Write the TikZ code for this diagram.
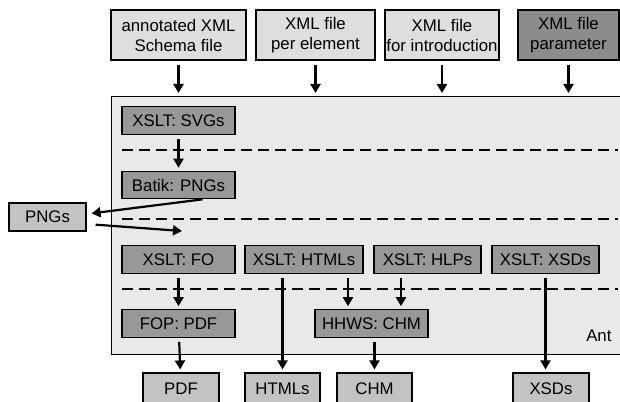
\documentclass[tikz,border=0pt]{standalone}
\usepackage{fontspec}
\setmainfont{Liberation Sans}
\usetikzlibrary{arrows.meta, positioning}

\definecolor{inbox}{RGB}{222,222,222}
\definecolor{antbg}{RGB}{233,233,233}
\definecolor{taskbox}{RGB}{152,152,152}
\definecolor{parbox}{RGB}{140,140,140}
\definecolor{outbox}{RGB}{195,195,195}

\begin{document}
\begin{tikzpicture}[
  x=1pt, y=-1pt,
  font=\fontsize{16.8}{20}\selectfont,
  infile/.style={draw, fill=inbox, line width=1.2pt, inner sep=0pt, align=center, minimum height=50pt},
  task/.style={draw, fill=taskbox, line width=1.2pt, inner sep=0pt, minimum width=113pt, minimum height=27.5pt},
  outfile/.style={draw, fill=outbox, line width=1.2pt, inner sep=0pt, minimum height=32pt},
  flow/.style={-{Triangle[length=9pt, width=10pt]}, line width=2.2pt, shorten >=3pt, shorten <=4pt},
  sep/.style={line width=2pt, dash pattern=on 11pt off 6pt}]

  \useasboundingbox (0,0) rectangle (620,401);

  % Ant box
  \node[draw, fill=antbg, line width=1.2pt, minimum width=520pt, minimum height=258pt, anchor=north west] (ant) at (111,96) {};
  \node[anchor=base east] (antlabel) at (615,341) {Ant};

  % inputs
  \node[infile, minimum width=135pt] (schema) at (178.5,35) {annotated XML\\Schema file};
  \node[infile, minimum width=119pt] (element) at (315.5,35) {XML file\\per element};
  \node[infile, minimum width=114pt] (intro) at (442,35) {XML file\\for introduction};
  \node[infile, minimum width=101pt, fill=parbox] (param) at (568.5,35) {XML file\\parameter};

  % tasks
  \node[task] (svgs) at (178.5,120.5) {XSLT: SVGs};
  \node[task] (batik) at (178.5,185) {Batik: PNGs};
  \node[task] (fo) at (178.5,259.5) {XSLT: FO};
  \node[task, minimum width=118pt] (xhtml) at (304,259.5) {XSLT: HTMLs};
  \node[task, minimum width=107pt] (hlps) at (427.5,259.5) {XSLT: HLPs};
  \node[task, minimum width=107pt] (xsds) at (545.5,259.5) {XSLT: XSDs};
  \node[task] (fop) at (178.5,323.5) {FOP: PDF};
  \node[task] (hhws) at (371.5,323.5) {HHWS: CHM};

  % outputs
  \node[outfile, minimum width=77pt, minimum height=28pt] (pngs) at (47.5,217) {PNGs};
  \node[outfile, minimum width=76pt] (pdf) at (181,389) {PDF};
  \node[outfile, minimum width=75pt] (htmls) at (282.5,389) {HTMLs};
  \node[outfile, minimum width=75pt] (chm) at (374.5,389) {CHM};
  \node[outfile, minimum width=76pt] (xsdout) at (551,389) {XSDs};

  % dashed separators
  \draw[sep] (122,150) -- (618,150);
  \draw[sep] (122,219) -- (618,219);
  \draw[sep] (122,289) -- (618,289);

  \foreach \src in {schema, element, intro, param}
    \draw[flow] (\src) -- (\src |- ant.north);

  \coordinate (pngsin) at (182,231);
  \draw[flow] (svgs) -- (batik);
  \draw[flow, shorten <=0pt, shorten >=5pt] ([xshift=24pt]batik.south) -- ([yshift=3pt]pngs.east);
  \draw[flow, shorten >=0pt, shorten <=9pt] ([yshift=-7pt]pngs.east) -- (pngsin);
  \draw[flow] (fo) -- (fop);
  \draw[flow] (fop) -- (pdf);
  \draw[flow] (xhtml.south -| htmls) -- (htmls);
  \draw[flow] ([xshift=-23.5pt]hhws.north |- xhtml.south) -- ([xshift=-23.5pt]hhws.north);
  \draw[flow] ([xshift=29.5pt]hhws.north |- hlps.south) -- ([xshift=29.5pt]hhws.north);
  \draw[flow] (hhws.south -| chm) -- (chm);
  \draw[flow] (xsds) -- (xsds |- xsdout.north);
\end{tikzpicture}
\end{document}
